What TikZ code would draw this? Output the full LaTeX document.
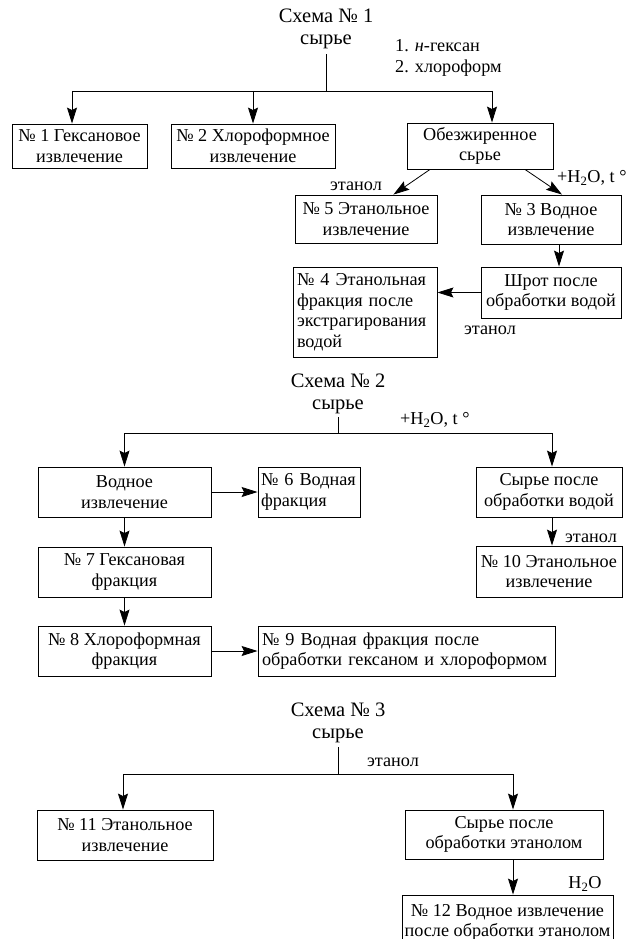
\documentclass[tikz,border=0pt]{standalone}
\usepackage{fontspec}
\setmainfont{Liberation Serif}
\usetikzlibrary{arrows.meta}
\newcommand\bfs{\fontsize{18.2}{20.5}\selectfont}
\newcommand\tfs{\fontsize{20.5}{23}\selectfont}
\begin{document}
\begin{tikzpicture}[x=1pt,y=-1pt,
  box/.style={draw, line width=0.9pt, inner sep=0pt, align=center, font=\bfs},
  lbox/.style={box, align=left},
  lbl/.style={inner sep=0pt, font=\bfs},
  ttl/.style={inner sep=0pt, font=\tfs},
  arr/.style={line width=0.8pt, -{Stealth[length=16pt,width=10pt,inset=2.5pt]}},
  ln/.style={line width=0.8pt}]
\useasboundingbox (0,0) rectangle (630,939);

% ---------- Scheme 1 ----------
\node[ttl] (t1) at (326,16) {Схема № 1};
\node[ttl] (s1) at (326,42) {сырье};
\node[lbl, anchor=west, align=left] (r1) at (395,58) {1. \textit{н}-гексан\\2. хлороформ};
\coordinate (j1) at (326,91);
\node[box, minimum width=135, minimum height=44] (b1) at (79.5,146) {№ 1 Гексановое\\извлечение};
\node[box, minimum width=164, minimum height=44] (b2) at (253,146) {№ 2 Хлороформное\\извлечение};
\node[box, minimum width=146, minimum height=46] (b3) at (480,146) {Обезжиренное\\сьрье};
\node[box, minimum width=142, minimum height=48] (b5) at (366,219) {№ 5 Этанольное\\извлечение};
\node[box, minimum width=140, minimum height=49] (b3w) at (551,219.5) {№ 3 Водное\\извлечение};
\node[box, minimum width=140, minimum height=51] (bshr) at (551,292.5) {Шрот после\\обработки водой};
\node[lbox, minimum width=144, minimum height=90, text width=136] (b4) at (365,312) {№ 4 Этанольная\\фракция после\\экстрагирования\\водой};
\node[lbl] (e1) at (356,186) {этанол};
\node[lbl, anchor=west] (w1) at (557,178) {+H\textsubscript{2}O, t °};
\node[lbl] (e2) at (490,330) {этанол};

\draw[ln] ([yshift=-5pt]s1.south) -- (j1);
\draw[ln] ([xshift=-7.5pt]b1.north |- j1) -- ([xshift=12pt]b3.north |- j1);
\draw[arr] ([xshift=-7.5pt]b1.north |- j1) -- ([xshift=-7.5pt]b1.north);
\draw[arr] (b2.north |- j1) -- (b2.north);
\draw[arr] ([xshift=12pt]b3.north |- j1) -- ([xshift=12pt]b3.north);
\draw[arr] ([xshift=-50pt]b3.south) -- ([xshift=-44pt]b5.north east);
\draw[arr] ([xshift=45pt]b3.south) -- ([xshift=11pt]b3w.north);
\draw[arr] ([xshift=8pt]b3w.south) -- ([xshift=8pt]bshr.north);
\draw[arr] (bshr.west) -- (bshr.west -| b4.east);

% ---------- Scheme 2 ----------
\node[ttl] (t2) at (338,381) {Схема № 2};
\node[ttl] (s2) at (338,407) {сырье};
\node[lbl, anchor=west] (w2) at (400,420) {+H\textsubscript{2}O, t °};
\coordinate (j2) at (338,433);
\node[box, minimum width=173, minimum height=50] (bv) at (124.5,492) {Водное\\извлечение};
\node[lbox, minimum width=102, minimum height=50, text width=96] (b6) at (309,492) {№ 6 Водная\\фракция};
\node[box, minimum width=146, minimum height=50] (bsw) at (549,492) {Сырье после\\обработки водой};
\node[box, minimum width=146, minimum height=51] (b10) at (549,571.5) {№ 10 Этанольное\\извлечение};
\node[box, minimum width=173, minimum height=50] (b7) at (124.5,572) {№ 7 Гексановая\\фракция};
\node[box, minimum width=173, minimum height=50] (b8) at (124.5,651) {№ 8 Хлороформная\\фракция};
\node[lbox, minimum width=297, minimum height=50, text width=289] (b9) at (406.5,651) {№ 9 Водная фракция после\\обработки гексаном и хлороформом};
\node[lbl] (e3) at (591,538) {этанол};

\draw[ln] ([yshift=-3pt]s2.south) -- (j2);
\draw[ln] (bv.north |- j2) -- ([xshift=3pt]bsw.north |- j2);
\draw[arr] (bv.north |- j2) -- (bv.north);
\draw[arr] ([xshift=3pt]bsw.north |- j2) -- ([xshift=3pt]bsw.north);
\draw[arr] (bv.east) -- (b6.west);
\draw[arr] ([xshift=3pt]bsw.south) -- ([xshift=3pt]b10.north);
\draw[arr] (bv.south) -- (b7.north);
\draw[arr] (b7.south) -- (b8.north);
\draw[arr] (b8.east) -- (b9.west);

% ---------- Scheme 3 ----------
\node[ttl] (t3) at (338,710) {Схема № 3};
\node[ttl] (s3) at (338,736) {сырье};
\node[lbl] (e4) at (393,762) {этанол};
\coordinate (j3) at (338,774);
\node[box, minimum width=176, minimum height=50] (b11) at (125,835) {№ 11 Этанольное\\извлечение};
\node[box, minimum width=198, minimum height=49] (bse) at (504,834.5) {Сырье после\\обработки этанолом};
\node[box, minimum width=211, minimum height=55] (b12) at (507.5,922.5) {№ 12 Водное извлечение\\после обработки этанолом};
\node[lbl] (h3) at (585,884) {H\textsubscript{2}O};

\draw[ln] ([yshift=-4pt]s3.south) -- (j3);
\draw[ln] ([xshift=-2pt]b11.north |- j3) -- ([xshift=9pt]bse.north |- j3);
\draw[arr] ([xshift=-2pt]b11.north |- j3) -- ([xshift=-2pt]b11.north);
\draw[arr] ([xshift=9pt]bse.north |- j3) -- ([xshift=9pt]bse.north);
\draw[arr] ([xshift=9pt]bse.south) -- ([xshift=9pt]bse.south |- b12.north);
\end{tikzpicture}
\end{document}
